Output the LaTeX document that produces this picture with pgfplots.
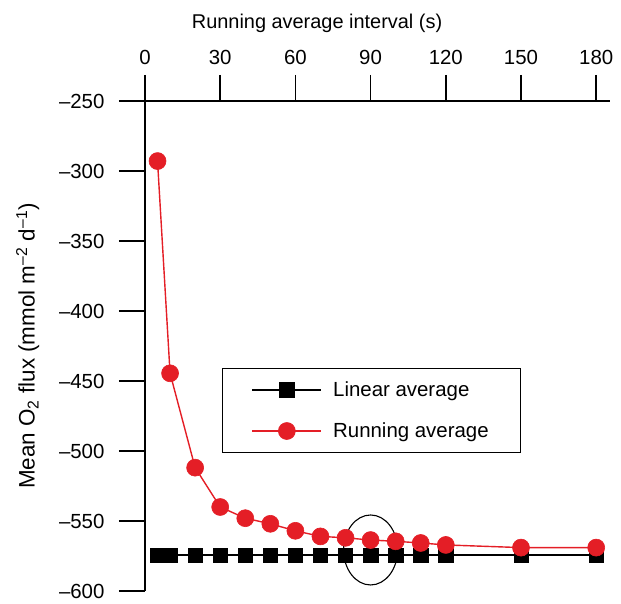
\documentclass[border=0pt]{standalone}
\usepackage{pgfplots}
\pgfplotsset{compat=1.18}
\usepackage{fontspec}
\setmainfont{Liberation Sans}
\definecolor{myred}{RGB}{228,30,38}
\begin{document}
\begin{tikzpicture}
\begin{axis}[
  scale only axis, width=465bp, height=490bp,
  xmin=0, xmax=185.5, ymin=-600, ymax=-250,
  axis x line*=top, axis y line*=left,
  axis line style={line width=1.6bp, -},
  xtick={0,30,60,90,120,150,180},
  ytick={-600,-550,-500,-450,-400,-350,-300,-250},
  yticklabels={--600,--550,--500,--450,--400,--350,--300,--250},
  tick align=outside,
  major tick length=26bp,
  tick style={line width=1.6bp, black},
  tick label style={font=\fontsize{20.5}{20.5}\selectfont},
  xticklabel style={yshift=7bp},
  yticklabel style={xshift=-11bp},
  /pgf/number format/assume math mode=true,
  xlabel={Running average interval (s)},
  ylabel={Mean O\textsubscript{2} flux (mmol m\textsuperscript{--2} d\textsuperscript{--1})},
  xlabel style={font=\fontsize{20}{20}\selectfont, at={(axis description cs:0.37,1.147)}, anchor=base},
  ylabel style={font=\fontsize{22.5}{22.5}\selectfont, at={(axis description cs:-0.252,0.5)}, anchor=center},
  clip=false,
  legend image code/.code={\draw[mark repeat=2,mark phase=2,#1] plot coordinates {(0bp,0bp) (34.5bp,0bp) (69bp,0bp)};},
  legend style={at={(axis cs:30.7,-440.7)}, anchor=north west, draw=black, line width=1.2bp,
    font=\fontsize{20.5}{20.5}\selectfont, inner xsep=29bp, inner ysep=10bp, row sep=19bp, column sep=8bp,
    nodes={inner sep=3bp}},
  legend cell align=left,
]
\addplot[black, line width=1.6bp, mark=square*, mark size=7.2bp, mark options={line width=0.6bp}]
  coordinates {(5,-574.5) (10,-574.5) (20,-574.5) (30,-574.5) (40,-574.5) (50,-574.5) (60,-574.5) (70,-574.5) (80,-574.5) (90,-574.5) (100,-574.5) (110,-574.5) (120,-574.5) (150,-574.5) (180,-574.5)};
\addlegendentry{Linear average}
\addplot[myred, line width=1.4bp, mark=*, mark size=8.5bp, mark options={line width=0.6bp, draw=myred, fill=myred}]
  coordinates {(5,-292.9) (10,-444.5) (20,-511.9) (30,-540) (40,-548) (50,-552) (60,-557) (70,-561) (80,-562) (90,-563.6) (100,-564.5) (110,-565.7) (120,-567.1) (150,-569) (180,-569)};
\addlegendentry{Running average}
\draw[black, line width=1.1bp] (axis cs:90,-570.7) ellipse [x radius=27bp, y radius=35bp];
\end{axis}
\pgfresetboundingbox
\path ([xshift=-145bp,yshift=-13bp]current axis.south west) rectangle ([xshift=11bp,yshift=101bp]current axis.north east);
\end{tikzpicture}
\end{document}
